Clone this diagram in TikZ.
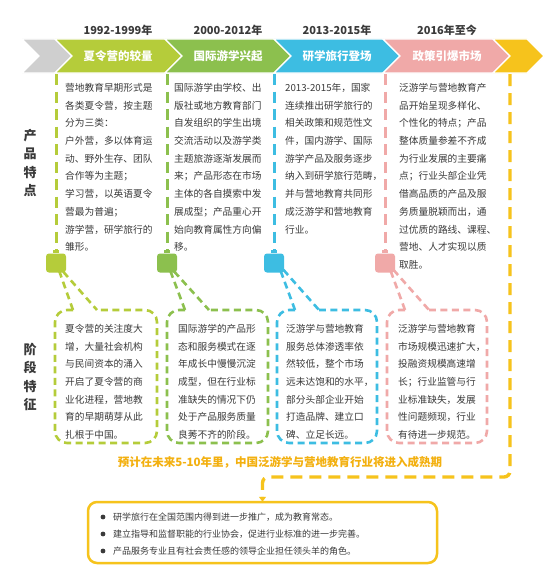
\documentclass[tikz,border=0pt]{standalone}
\usepackage{fontspec}
\setmainfont{Noto Sans CJK SC}
\usetikzlibrary{arrows.meta}
\definecolor{cgray}{HTML}{CFCFCF}
\definecolor{clime}{HTML}{B5CC3A}
\definecolor{cgreen}{HTML}{8CC04E}
\definecolor{cblue}{HTML}{3DBDE2}
\definecolor{cpink}{HTML}{F0A9A8}
\definecolor{cyel}{HTML}{F6C31C}
\definecolor{corange}{HTML}{F3B00F}
\definecolor{ctext}{HTML}{3A3A3A}
\tikzset{
  chev/.style={draw=white, line width=1.2pt, line join=miter},
  chevlabel/.style={text=white, font=\fontsize{11.5}{13}\selectfont\bfseries, inner sep=0},
  yearlabel/.style={text=ctext, font=\fontsize{11}{13}\selectfont\bfseries, inner sep=0},
  coltext/.style={anchor=north west, inner sep=0, align=left, text=ctext, font=\fontsize{9.7}{17.7}\selectfont},
  coldash/.style={line width=3pt, dash pattern=on 11pt off 6.5pt},
  bub/.style={line width=2.6pt, dash pattern=on 7pt off 4.5pt},
  sq/.style={minimum width=20pt, minimum height=19pt, inner sep=0, rounded corners=3pt},
  sidelabel/.style={align=center, text=ctext, font=\fontsize{13}{18.5}\selectfont\bfseries, inner sep=0},
  ydash/.style={draw=cyel, line width=3.4pt, dash pattern=on 12pt off 7pt},
}
\newcommand\mybubble[4]{%
  \draw[bub, draw=#3, rounded corners=12pt] ({#1+18},310) -- (#1,310) -- (#1,443) -- (#2,443) -- (#2,310) -- ({#1+42},310);
  \draw[bub, draw=#3] ({#1+18},310) -- (#4) -- ({#1+42},310);
}
\begin{document}
\begin{tikzpicture}[x=1pt,y=-1pt]
\useasboundingbox[fill=white] (0,0) rectangle (555,578);

% chevrons
\path[chev, fill=cgray] (22,39) -- (55,39) -- (72,56) -- (55,73) -- (22,73) -- (39,56) -- cycle;
\path[chev, fill=clime] (55,39) -- (165,39) -- (182,56) -- (165,73) -- (55,73) -- (72,56) -- cycle;
\path[chev, fill=cgreen] (165,39) -- (274,39) -- (291,56) -- (274,73) -- (165,73) -- (182,56) -- cycle;
\path[chev, fill=cblue] (274,39) -- (383,39) -- (400,56) -- (383,73) -- (274,73) -- (291,56) -- cycle;
\path[chev, fill=cpink] (383,39) -- (493,39) -- (510,56) -- (493,73) -- (383,73) -- (400,56) -- cycle;
\path[chev, fill=cyel] (493,39) -- (527,39) -- (544,56) -- (527,73) -- (493,73) -- (510,56) -- cycle;

\node[chevlabel] (c1) at (118,56) {夏令营的较量};
\node[chevlabel] (c2) at (228,56) {国际游学兴起};
\node[chevlabel] (c3) at (337,56) {研学旅行登场};
\node[chevlabel] (c4) at (447,56) {政策引爆市场};

\node[yearlabel] (y1) at (118,30) {1992-1999年};
\node[yearlabel] (y2) at (228,30) {2000-2012年};
\node[yearlabel] (y3) at (337,30) {2013-2015年};
\node[yearlabel] (y4) at (447,30) {2016年至今};

% side labels
\node[sidelabel] (p) at (30,163) {产\\品\\特\\点};
\node[sidelabel] (j) at (30,377) {阶\\段\\特\\征};

% squares
\node[sq, fill=clime] (s1) at (56,263) {};
\node[sq, fill=cgreen] (s2) at (167,263) {};
\node[sq, fill=cblue] (s3) at (274,263) {};
\node[sq, fill=cpink] (s4) at (385,263) {};
\fill[clime] ([xshift=-3pt]s1.north) rectangle ([xshift=3pt,yshift=3pt]s1.north);
\fill[cgreen] ([xshift=-3pt]s2.north) rectangle ([xshift=3pt,yshift=3pt]s2.north);
\fill[cblue] ([xshift=-3pt]s3.north) rectangle ([xshift=3pt,yshift=3pt]s3.north);
\fill[cpink] ([xshift=-3pt]s4.north) rectangle ([xshift=3pt,yshift=3pt]s4.north);

% column dashed lines
\coordinate (l1) at (56,74);
\coordinate (l2) at (167,74);
\coordinate (l3) at (274,74);
\coordinate (l4) at (385,74);
\draw[coldash, draw=clime] (l1) -- ([yshift=3pt]s1.north);
\draw[coldash, draw=cgreen] (l2) -- ([yshift=3pt]s2.north);
\draw[coldash, draw=cblue] (l3) -- ([yshift=3pt]s3.north);
\draw[coldash, draw=cpink] (l4) -- ([yshift=3pt]s4.north);

% column texts
\node[coltext] (t1) at (65,83) {营地教育早期形式是\\各类夏令营，按主题\\分为三类：\\户外营，多以体育运\\动、野外生存、团队\\合作等为主题；\\学习营，以英语夏令\\营最为普遍；\\游学营，研学旅行的\\雏形。};
\node[coltext] (t2) at (174,83) {国际游学由学校、出\\版社或地方教育部门\\自发组织的学生出境\\交流活动以及游学类\\主题旅游逐渐发展而\\来；产品形态在市场\\主体的各自摸索中发\\展成型；产品重心开\\始向教育属性方向偏\\移。};
\node[coltext] (t3) at (285,83) {2013-2015年，国家\\连续推出研学旅行的\\相关政策和规范性文\\件，国内游学、国际\\游学产品及服务逐步\\纳入到研学旅行范畴，\\并与营地教育共同形\\成泛游学和营地教育\\行业。};
\node[coltext] (t4) at (399,83) {泛游学与营地教育产\\品开始呈现多样化、\\个性化的特点；产品\\整体质量参差不齐成\\为行业发展的主要痛\\点；行业头部企业凭\\借高品质的产品及服\\务质量脱颖而出，通\\过优质的路线、课程、\\营地、人才实现以质\\取胜。};

% bubbles
\coordinate (a1) at ([xshift=1pt,yshift=8pt]s1.south);
\coordinate (a2) at ([xshift=1pt,yshift=8pt]s2.south);
\coordinate (a3) at ([xshift=4pt,yshift=9pt]s3.south);
\coordinate (a4) at ([xshift=3pt,yshift=9pt]s4.south);
\mybubble{55}{157}{clime}{a1}
\mybubble{167}{268}{cgreen}{a2}
\mybubble{277}{377}{cblue}{a3}
\mybubble{387}{487}{cpink}{a4}

\node[coltext] (b1) at (65,324) {夏令营的关注度大\\增，大量社会机构\\与民间资本的涌入\\开启了夏令营的商\\业化进程，营地教\\育的早期萌芽从此\\扎根于中国。};
\node[coltext] (b2) at (178,324) {国际游学的产品形\\态和服务模式在逐\\年成长中慢慢沉淀\\成型，但在行业标\\准缺失的情况下仍\\处于产品服务质量\\良莠不齐的阶段。};
\node[coltext] (b3) at (286,324) {泛游学与营地教育\\服务总体渗透率依\\然较低，整个市场\\远未达饱和的水平，\\部分头部企业开始\\打造品牌、建立口\\碑、立足长远。};
\node[coltext] (b4) at (398,324) {泛游学与营地教育\\市场规模迅速扩大，\\投融资规模高速增\\长；行业监管与行\\业标准缺失，发展\\性问题频现，行业\\有待进一步规范。};

% forecast
\node[text=corange, font=\fontsize{11.5}{13}\selectfont\bfseries, inner sep=0] (fc) at (280,462) {预计在未来5-10年里，中国泛游学与营地教育行业将进入成熟期};

% bottom box
\node[draw=cyel, line width=2.5pt, rounded corners=9pt, minimum width=349pt, minimum height=61pt, inner sep=0] (box) at (262.5,532.5) {};
\node[coltext, font=\fontsize{9}{17}\selectfont] (lst) at (113,512.5) {研学旅行在全国范围内得到进一步推广，成为教育常态。\\建立指导和监督职能的行业协会，促进行业标准的进一步完善。\\产品服务专业且有社会责任感的领导企业担任领头羊的角色。};
\fill[ctext] (103,517) circle (2.4pt);
\fill[ctext] (103,534) circle (2.4pt);
\fill[ctext] (103,551) circle (2.4pt);

% yellow connector
\coordinate (yt) at (510,74);
\coordinate (yc) at (510,477);
\draw[ydash, rounded corners=6pt, -{Triangle[length=5pt,width=7pt]}] (yt) -- (yc) -- (yc -| box.north) -- ([yshift=-1pt]box.north);
\end{tikzpicture}
\end{document}
